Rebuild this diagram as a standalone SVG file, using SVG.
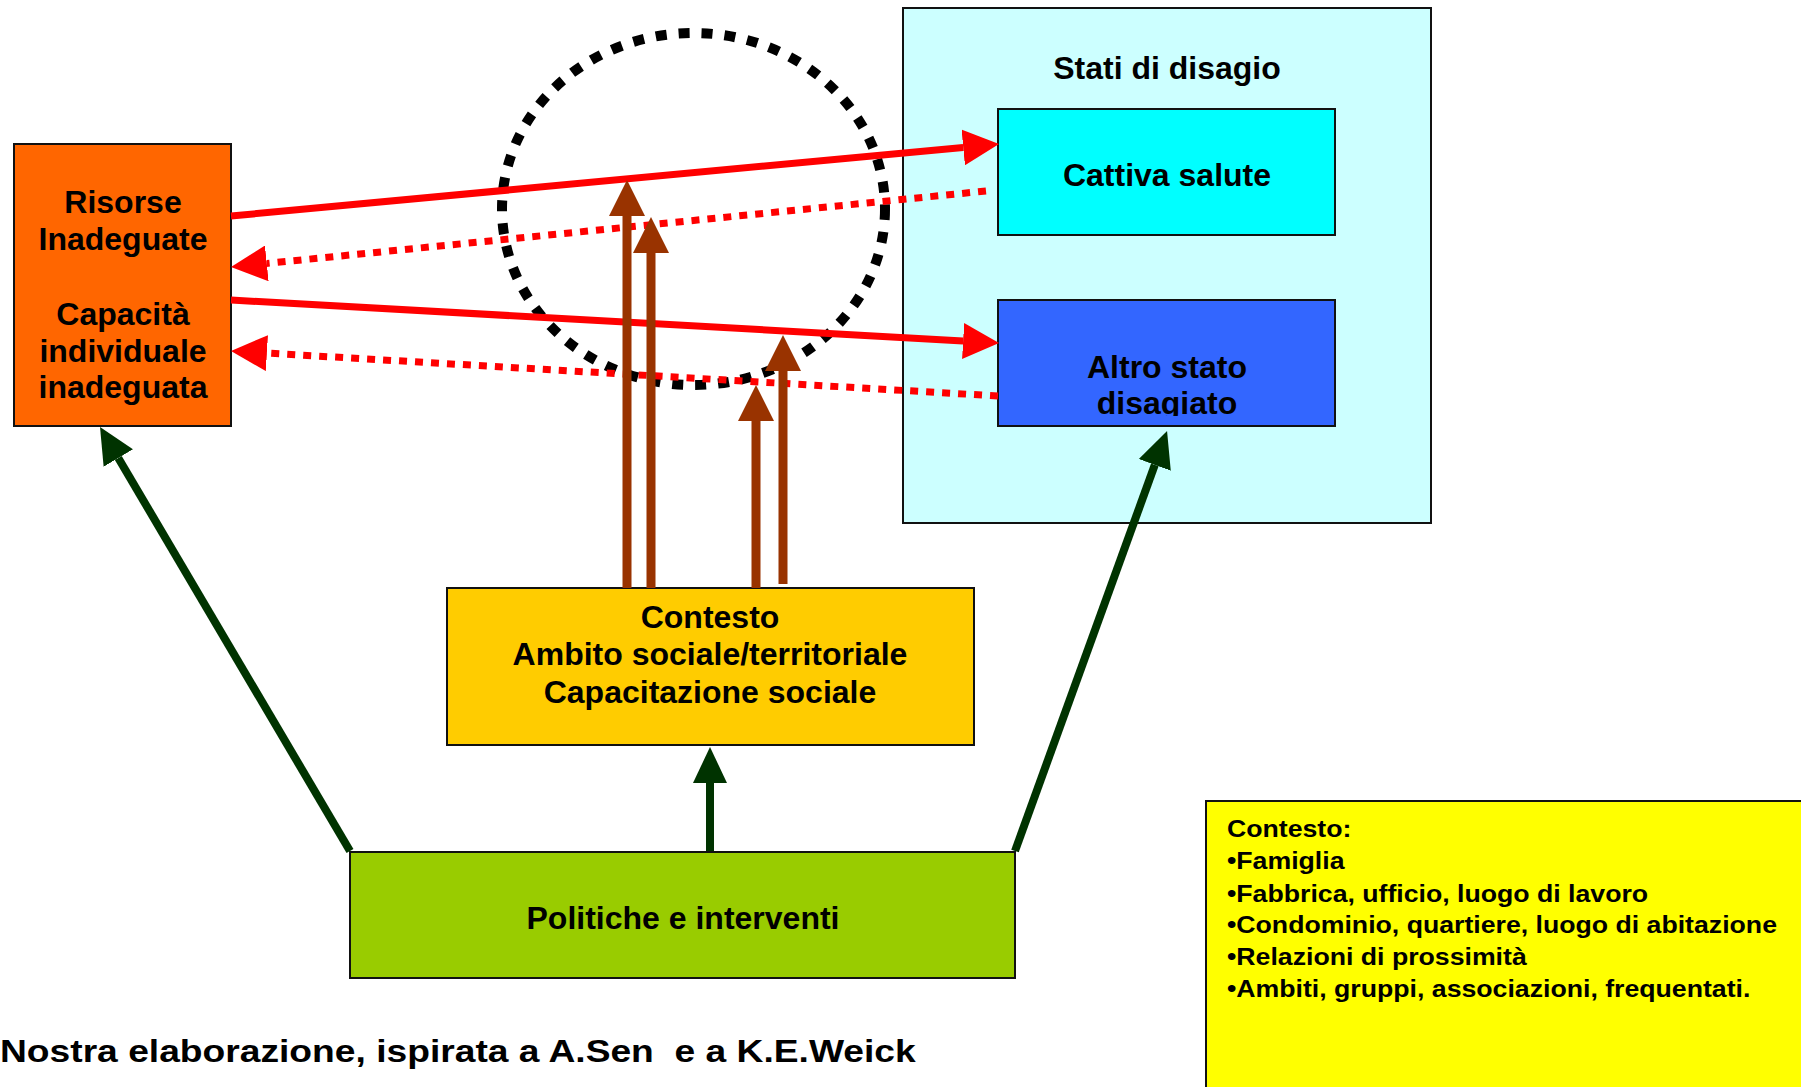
<svg xmlns="http://www.w3.org/2000/svg" width="1801" height="1087" viewBox="0 0 1801 1087">
<style>
.box{stroke:#111;stroke-width:2}
.lbl{font-family:"Liberation Sans",Arial,sans-serif;font-weight:bold;font-size:32px;fill:#000;text-anchor:middle}
.sm{font-family:"Liberation Sans",Arial,sans-serif;font-weight:bold;font-size:23px;fill:#000}
.foot{font-family:"Liberation Sans",Arial,sans-serif;font-weight:bold;font-size:31px;fill:#000;white-space:pre}
.red{stroke:#FF0000;stroke-width:7;fill:none}
.reddot{stroke:#FF0000;stroke-width:7;fill:none;stroke-dasharray:8 8}
.brown{stroke:#993300;stroke-width:9;fill:none}
.green{stroke:#003300;stroke-width:8;fill:none}
</style>
<defs>
<marker id="ahRed" markerUnits="userSpaceOnUse" viewBox="0 -18 36 36" refX="0" refY="0" markerWidth="36" markerHeight="36" orient="auto"><path d="M0,-18 L36,0 L0,18 z" fill="#FF0000"/></marker>
<marker id="ahBrown" markerUnits="userSpaceOnUse" viewBox="0 -18 36 36" refX="0" refY="0" markerWidth="36" markerHeight="36" orient="auto"><path d="M0,-18 L36,0 L0,18 z" fill="#993300"/></marker>
<marker id="ahGreen" markerUnits="userSpaceOnUse" viewBox="0 -18 36 36" refX="0" refY="0" markerWidth="36" markerHeight="36" orient="auto"><path d="M0,-17 L36,0 L0,17 z" fill="#003300"/></marker>
<clipPath id="clipAltro"><rect x="998" y="300" width="337" height="116"/></clipPath>
</defs>
<rect width="1801" height="1087" fill="#FFFFFF"/>

<g id="stati">
<rect class="box" x="903" y="8" width="528" height="515" fill="#CCFFFF"/>
<text class="lbl" x="1167" y="79">Stati di disagio</text>
</g>
<g id="cattiva">
<rect class="box" x="998" y="109" width="337" height="126" fill="#00FFFF"/>
<text class="lbl" x="1167" y="186">Cattiva salute</text>
</g>
<g id="altro">
<rect class="box" x="998" y="300" width="337" height="126" fill="#3366FF"/>
<g clip-path="url(#clipAltro)">
<text class="lbl" x="1167" y="378">Altro stato</text>
<text class="lbl" x="1167" y="414">disagiato</text>
</g>
</g>
<g id="risorse">
<rect class="box" x="14" y="144" width="217" height="282" fill="#FF6600"/>
<text class="lbl" x="123" y="213">Risorse</text>
<text class="lbl" x="123" y="250">Inadeguate</text>
<text class="lbl" x="123" y="325">Capacità</text>
<text class="lbl" x="123" y="362">individuale</text>
<text class="lbl" x="123" y="398">inadeguata</text>
</g>
<g id="contesto">
<rect class="box" x="447" y="588" width="527" height="157" fill="#FFCC00"/>
<text class="lbl" x="710" y="628">Contesto</text>
<text class="lbl" x="710" y="665">Ambito sociale/territoriale</text>
<text class="lbl" x="710" y="703">Capacitazione sociale</text>
</g>
<g id="politiche">
<rect class="box" x="350" y="852" width="665" height="126" fill="#99CC00"/>
<text class="lbl" x="683" y="929">Politiche e interventi</text>
</g>
<g id="legenda">
<rect class="box" x="1206" y="801" width="600" height="300" fill="#FFFF00"/>
<g transform="translate(1227,0) scale(1.16,1)">
<text class="sm" x="0" y="837">Contesto:</text>
<text class="sm" x="0" y="869">•Famiglia</text>
<text class="sm" x="0" y="902">•Fabbrica, ufficio, luogo di lavoro</text>
<text class="sm" x="0" y="933">•Condominio, quartiere, luogo di abitazione</text>
<text class="sm" x="0" y="965">•Relazioni di prossimità</text>
<text class="sm" x="0" y="997">•Ambiti, gruppi, associazioni, frequentati.</text>
</g>
</g>

<g id="connectors">
<ellipse cx="693.5" cy="209" rx="191.5" ry="176" fill="none" stroke="#000" stroke-width="10" stroke-dasharray="11 12"/>
<line class="red" x1="231" y1="216" x2="963.2" y2="147.4" marker-end="url(#ahRed)"/>
<line class="red" x1="231" y1="300" x2="963.1" y2="341" marker-end="url(#ahRed)"/>
<line class="reddot" x1="986" y1="191" x2="266.8" y2="263.4" marker-end="url(#ahRed)"/>
<line class="reddot" x1="998" y1="396" x2="266.9" y2="353.1" marker-end="url(#ahRed)"/>
<line class="brown" x1="627" y1="588" x2="627" y2="216" marker-end="url(#ahBrown)"/>
<line class="brown" x1="651" y1="588" x2="651" y2="253" marker-end="url(#ahBrown)"/>
<line class="brown" x1="756" y1="588" x2="756" y2="421" marker-end="url(#ahBrown)"/>
<line class="brown" x1="783" y1="584" x2="783" y2="371" marker-end="url(#ahBrown)"/>
<line class="green" x1="350" y1="851" x2="118.3" y2="458" marker-end="url(#ahGreen)"/>
<line class="green" x1="710" y1="851" x2="710" y2="783" marker-end="url(#ahGreen)"/>
<line class="green" x1="1015" y1="851" x2="1154.8" y2="464.9" marker-end="url(#ahGreen)"/>
</g>

<g id="footer" transform="scale(1.2,1)">
<text class="foot" x="0" y="1062" xml:space="preserve">Nostra elaborazione, ispirata a A.Sen  e a K.E.Weick</text>
</g>
</svg>
